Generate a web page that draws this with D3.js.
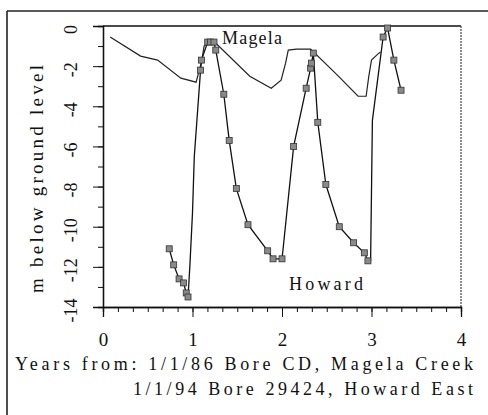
<!DOCTYPE html>
<html>
<head>
<meta charset="utf-8">
<script src="https://cdn.jsdelivr.net/npm/d3@7"></script>
<style>
  html, body { margin: 0; padding: 0; background: #fff; }
  svg { display: block; }
  svg text { font-family: "Liberation Serif", "Times New Roman", Times, "DejaVu Serif", serif !important; fill: #111; }
</style>
</head>
<body>
<svg id="chart" width="488" height="415"></svg>
<script>
// Water level (m below ground) against years since the start date of each bore
const magelaYears = [0.08, 0.42, 0.61, 0.87, 1.04, 1.10, 1.13, 1.20, 1.27, 1.64, 1.88, 1.99, 2.04, 2.07, 2.16, 2.32, 2.63, 2.85, 2.94, 2.97, 3.00, 3.07, 3.10];
const magelaLevel = [-0.55, -1.5, -1.7, -2.6, -2.8, -1.8, -1.0, -0.75, -0.9, -2.5, -3.1, -2.7, -1.85, -1.2, -1.15, -1.15, -2.5, -3.5, -3.5, -2.5, -1.7, -1.4, -1.3];

const howardYears = [0.74, 0.79, 0.85, 0.90, 0.93, 0.95, 0.97, 1.00, 1.02, 1.09, 1.10, 1.17, 1.20, 1.24, 1.26, 1.35, 1.41, 1.49, 1.62, 1.84, 1.90, 2.00, 2.01, 2.13, 2.27, 2.32, 2.33, 2.35, 2.40, 2.49, 2.64, 2.80, 2.92, 2.96, 2.99, 3.01, 3.13, 3.18, 3.25, 3.33];
const howardLevel = [-11.1, -11.9, -12.6, -12.8, -13.3, -13.5, -12.0, -9.3, -6.5, -2.2, -1.7, -0.8, -0.8, -0.8, -1.2, -3.4, -5.7, -8.1, -9.9, -11.2, -11.6, -11.6, -11.2, -6.0, -3.1, -2.1, -1.85, -1.35, -4.8, -7.9, -10.0, -10.8, -11.3, -11.7, -11.7, -4.7, -0.55, -0.1, -1.7, -3.2];
// which Howard readings carry a plotted marker
const howardMarked = [1, 1, 1, 1, 1, 1, 0, 0, 0, 1, 1, 1, 1, 1, 1, 1, 1, 1, 1, 1, 1, 1, 0, 1, 1, 1, 1, 1, 1, 1, 1, 1, 1, 1, 0, 0, 1, 1, 1, 1];

const xTicks = [0, 1, 2, 3, 4];
const yTicks = [0, -2, -4, -6, -8, -10, -12, -14];
const xLabelLine1 = "Years from: 1/1/86 Bore CD, Magela Creek";
const xLabelLine2 = "1/1/94 Bore 29424, Howard East";
const yLabel = "m below ground level";
const seriesNames = ["Magela", "Howard"];

const serif = '"Liberation Serif", "Times New Roman", Times, serif';
const svg = d3.select("#chart");
const plotLeft = 103, plotRight = 461, plotTop = 26, plotBottom = 307;

const x = d3.scaleLinear().domain([0, 4]).range([plotLeft, plotRight]);
const y = d3.scaleLinear().domain([0, -14]).range([plotTop, plotBottom]);

// outer frame (top and left edges visible)
svg.append("line").attr("x1", 7).attr("x2", 488).attr("y1", 11).attr("y2", 11)
  .attr("stroke", "#222").attr("stroke-width", 1.6);
svg.append("line").attr("x1", 7).attr("x2", 7).attr("y1", 11).attr("y2", 415)
  .attr("stroke", "#222").attr("stroke-width", 1.6);

// plot box: top and right edges
svg.append("line").attr("x1", plotLeft).attr("x2", plotRight).attr("y1", plotTop).attr("y2", plotTop)
  .attr("stroke", "#111").attr("stroke-width", 1.3);
svg.append("line").attr("x1", plotRight).attr("x2", plotRight).attr("y1", plotTop).attr("y2", plotBottom)
  .attr("stroke", "#444").attr("stroke-width", 1.2).attr("stroke-dasharray", "2,1");

// x axis with minor ticks every two months
const xAxisMinor = d3.axisBottom(x).tickValues(d3.range(0, 4.001, 1 / 6)).tickSize(5).tickFormat("");
const xg2 = svg.append("g").attr("transform", `translate(0,${plotBottom})`).call(xAxisMinor);
const xAxis = d3.axisBottom(x).tickValues(xTicks).tickSize(10).tickPadding(16).tickFormat(d3.format("d"));
const xg = svg.append("g").attr("transform", `translate(0,${plotBottom})`).call(xAxis);
[xg, xg2].forEach(g => {
  g.attr("font-family", serif);
  g.select(".domain").attr("stroke", "#111").attr("stroke-width", 1.3);
  g.selectAll(".tick line").attr("stroke", "#111").attr("stroke-width", 1);
});
xg.selectAll(".tick text").attr("font-size", 19).style("font-family", serif).attr("fill", "#111");

// y axis with minor ticks at every metre
const yAxisMinor = d3.axisLeft(y).tickValues(d3.range(0, -14.001, -1)).tickSize(5).tickFormat("");
const yg2 = svg.append("g").attr("transform", `translate(${plotLeft},0)`).call(yAxisMinor);
const yAxis = d3.axisLeft(y).tickValues(yTicks).tickSize(10).tickFormat(d => d === 0 ? "0" : "-" + Math.abs(d));
const yg = svg.append("g").attr("transform", `translate(${plotLeft},0)`).call(yAxis);
[yg, yg2].forEach(g => {
  g.attr("font-family", serif);
  g.select(".domain").attr("stroke", "#111").attr("stroke-width", 1.3);
  g.selectAll(".tick line").attr("stroke", "#111").attr("stroke-width", 1);
});
// tick labels read bottom-to-top
yg.selectAll(".tick text")
  .attr("x", null).attr("dy", null)
  .attr("transform", "translate(-26,3) rotate(-90)")
  .attr("text-anchor", "middle")
  .attr("font-size", 18).style("font-family", serif).attr("fill", "#111");

// axis titles
svg.append("text")
  .attr("transform", `translate(43,${(65 + 293) / 2}) rotate(-90)`)
  .attr("text-anchor", "middle").attr("font-size", 19)
  .attr("textLength", 228).attr("lengthAdjust", "spacing")
  .style("font-family", serif)
  .text(yLabel);

svg.append("text").attr("x", 15).attr("y", 370).attr("font-size", 18)
  .style("font-family", serif)
  .attr("textLength", 458).attr("lengthAdjust", "spacing").text(xLabelLine1);
svg.append("text").attr("x", 133).attr("y", 395).attr("font-size", 18)
  .style("font-family", serif)
  .attr("textLength", 340).attr("lengthAdjust", "spacing").text(xLabelLine2);

// series
const line = d3.line().x(d => x(d[0])).y(d => y(d[1]));
const magela = magelaYears.map((v, i) => [v, magelaLevel[i]]);
const howard = howardYears.map((v, i) => [v, howardLevel[i]]);

svg.append("path").datum(magela).attr("d", line)
  .attr("fill", "none").attr("stroke", "#222").attr("stroke-width", 1.2);
svg.append("path").datum(howard).attr("d", line)
  .attr("fill", "none").attr("stroke", "#111").attr("stroke-width", 1.3);

svg.append("g").selectAll("rect")
  .data(howard.filter((d, i) => howardMarked[i]))
  .join("rect")
  .attr("x", d => x(d[0]) - 3).attr("y", d => y(d[1]) - 3)
  .attr("width", 6).attr("height", 6)
  .attr("fill", "#8a8a8a").attr("stroke", "#333").attr("stroke-width", 0.8);

// series labels
svg.append("text").attr("x", 222).attr("y", 44).attr("font-size", 18)
  .style("font-family", serif)
  .attr("textLength", 60).attr("lengthAdjust", "spacing").text(seriesNames[0]);
svg.append("text").attr("x", 289).attr("y", 290).attr("font-size", 18)
  .style("font-family", serif)
  .attr("textLength", 74).attr("lengthAdjust", "spacing").text(seriesNames[1]);
</script>
</body>
</html>
